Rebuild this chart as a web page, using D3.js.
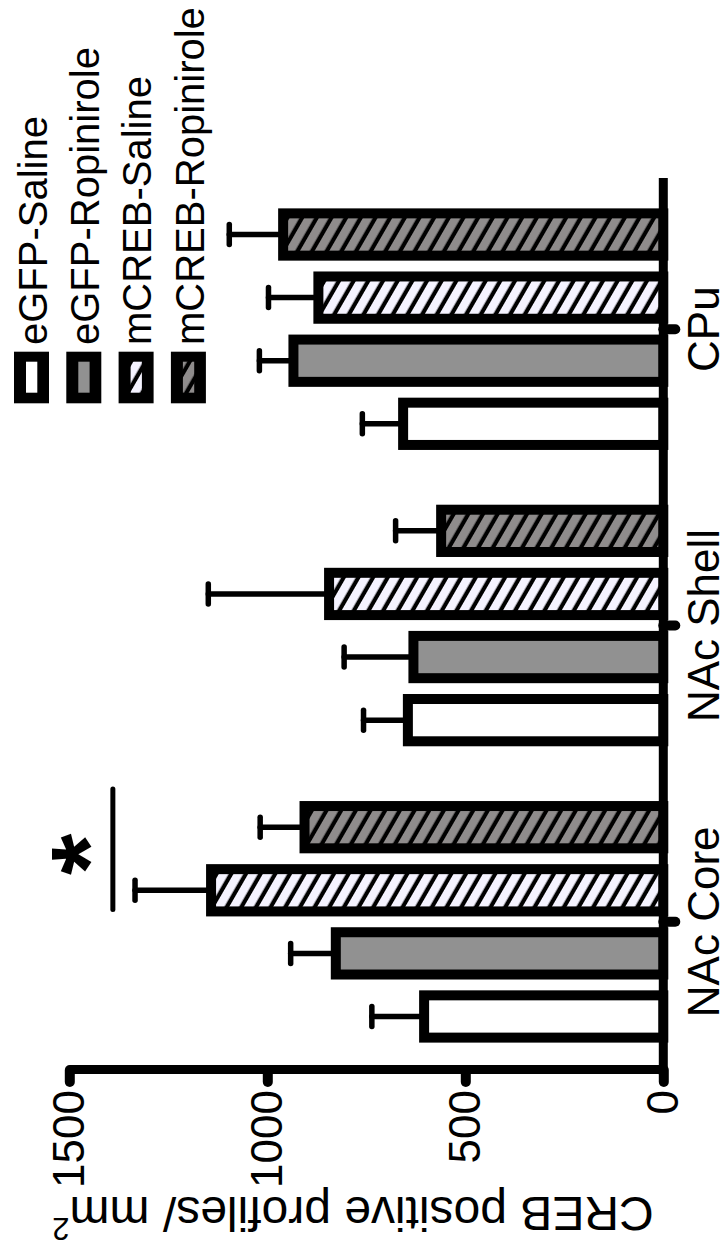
<!DOCTYPE html>
<html><head><meta charset="utf-8">
<script src="https://cdn.jsdelivr.net/npm/d3@7"></script>
<style>html,body{margin:0;padding:0;background:#fff;} svg{display:block;}</style>
</head><body>
<svg id="chart" width="728" height="1253"></svg>
<script>
// ---- data ----
const regions = ["NAc Core", "NAc Shell", "CPu"];
const groups = ["eGFP-Saline", "eGFP-Ropinirole", "mCREB-Saline", "mCREB-Ropinirole"];
const eGFPSaline = [604, 645, 657];
const eGFPRopinirole = [827, 631, 934];
const mCREBSaline = [1142, 844, 871];
const mCREBRopinirole = [906, 561, 960];
const eGFPSalineSEM = [132, 112, 103];
const eGFPRopiniroleSEM = [114, 175, 86];
const mCREBSalineSEM = [192, 305, 126];
const mCREBRopiniroleSEM = [112, 115, 136];
const yTicks = [0, 500, 1000, 1500];
const yTitle = "CREB positive profiles/ mm";
const yTitleSup = "2";
const sigRegion = "NAc Core";
const sigPair = ["mCREB-Saline", "mCREB-Ropinirole"];
const sigValue = 1390;
const sigLabel = "*";

const values = {"eGFP-Saline": eGFPSaline, "eGFP-Ropinirole": eGFPRopinirole, "mCREB-Saline": mCREBSaline, "mCREB-Ropinirole": mCREBRopinirole};
const errors = {"eGFP-Saline": eGFPSalineSEM, "eGFP-Ropinirole": eGFPRopiniroleSEM, "mCREB-Saline": mCREBSalineSEM, "mCREB-Ropinirole": mCREBRopiniroleSEM};
const data = regions.flatMap((r, i) => groups.map(gn => ({region: r, group: gn, value: values[gn][i], sem: errors[gn][i]})));

// ---- layout (chart drawn upright, then rotated 90deg counter-clockwise) ----
const W = 1253, H = 728;
const FONT = "'Liberation Sans', Arial, Helvetica, sans-serif";
const svg = d3.select("#chart");
const defs = svg.append("defs");
function hatch(id, bg) {
  const p = defs.append("pattern").attr("id", id).attr("patternUnits", "userSpaceOnUse")
    .attr("width", 12.7).attr("height", 20).attr("patternTransform", "rotate(-60)");
  p.append("rect").attr("width", 12.7).attr("height", 20).attr("fill", bg);
  p.append("rect").attr("width", 4.2).attr("height", 20).attr("fill", "#000");
}
hatch("hatchLight", "#f5f3ff");
hatch("hatchDark", "#8f8c8c");
const fills = {"eGFP-Saline": "#ffffff", "eGFP-Ropinirole": "#919191", "mCREB-Saline": "url(#hatchLight)", "mCREB-Ropinirole": "url(#hatchDark)"};

const g = svg.append("g").attr("transform", `translate(0,${W}) rotate(-90)`);

const y = d3.scaleLinear().domain([0, 1500]).range([663.3, 69.3]);
const x0 = d3.scaleBand().domain(regions).range([183, 1072]);
const x1 = d3.scaleBand().domain(groups).range([21.97, 274.37]).paddingInner(0.33).paddingOuter(0.165);
const cx = d => x0(d.region) + x1(d.group) + x1.bandwidth() / 2;

// error bars
const eb = g.append("g").attr("stroke", "#000").attr("stroke-width", 5.5).attr("stroke-linecap", "round");
eb.selectAll("line.v").data(data).join("line").attr("class", "v")
  .attr("x1", cx).attr("x2", cx).attr("y1", d => y(d.value)).attr("y2", d => y(d.value + d.sem));
eb.selectAll("line.c").data(data).join("line").attr("class", "c")
  .attr("x1", d => cx(d) - 10).attr("x2", d => cx(d) + 10).attr("y1", d => y(d.value + d.sem)).attr("y2", d => y(d.value + d.sem));

// bars
g.append("g").selectAll("rect").data(data).join("rect")
  .attr("x", d => x0(d.region) + x1(d.group)).attr("width", x1.bandwidth())
  .attr("y", d => y(d.value)).attr("height", d => y(0) - y(d.value))
  .attr("fill", d => fills[d.group]).attr("stroke", "#000").attr("stroke-width", 10);

// value axis
const ya = g.append("g").attr("transform", "translate(183,0)")
  .call(d3.axisLeft(y).tickValues(yTicks).tickFormat(d3.format("d")).tickSize(12).tickSizeOuter(0).tickPadding(8));
ya.attr("font-size", null).attr("font-family", null);
ya.select(".domain").attr("stroke-width", 9);
ya.selectAll(".tick line").attr("stroke-width", 10).attr("stroke-linecap", "round");
ya.selectAll(".tick text").attr("font-size", 44).attr("font-family", FONT).attr("fill", "#000");

// category axis
const xa = g.append("g").attr("transform", `translate(0,${y(0)})`)
  .call(d3.axisBottom(x0).tickSize(12).tickSizeOuter(0));
xa.attr("font-size", null).attr("font-family", null);
xa.select(".domain").remove();
xa.append("line").attr("x1", 178.5).attr("x2", 1075).attr("stroke", "#000").attr("stroke-width", 9);
xa.selectAll(".tick line").attr("stroke-width", 10).attr("stroke-linecap", "round");
xa.selectAll(".tick text").attr("y", 55.5).attr("dy", 0).attr("font-size", 44).attr("font-family", FONT).attr("fill", "#000");

// axis title
const t = g.append("text").attr("transform", `translate(56,353) rotate(-90)`).attr("text-anchor", "middle")
  .attr("font-size", 48).attr("font-family", FONT).attr("fill", "#000");
t.append("tspan").text(yTitle);
t.append("tspan").attr("font-size", 31).attr("dy", -21).text(yTitleSup);

// significance
const sx1 = x0(sigRegion) + x1(sigPair[0]) + 2;
const sx2 = x0(sigRegion) + x1(sigPair[1]) + x1.bandwidth() + 17;
g.append("line").attr("x1", sx1).attr("x2", sx2).attr("y1", y(sigValue)).attr("y2", y(sigValue))
  .attr("stroke", "#000").attr("stroke-width", 5).attr("stroke-linecap", "round");
g.append("text").attr("x", (sx1 + sx2) / 2 - 5).attr("y", y(sigValue) + 12).attr("text-anchor", "middle")
  .attr("font-size", 106).attr("font-weight", "bold").attr("font-family", FONT).text(sigLabel);

// legend
const lg = g.append("g");
groups.forEach((name, i) => {
  const yy = 14 + i * 52.3;
  lg.append("rect").attr("x", 849.7).attr("y", yy).attr("width", 51.6).attr("height", 35).attr("fill", "#000");
  lg.append("rect").attr("x", 860.3).attr("y", yy + 12).attr("width", 31).attr("height", 11.3).attr("fill", fills[name]);
  lg.append("text").attr("x", 908).attr("y", yy + 32.7).attr("font-size", 40).attr("font-family", FONT).attr("fill", "#000").text(name);
});
</script>
</body></html>
